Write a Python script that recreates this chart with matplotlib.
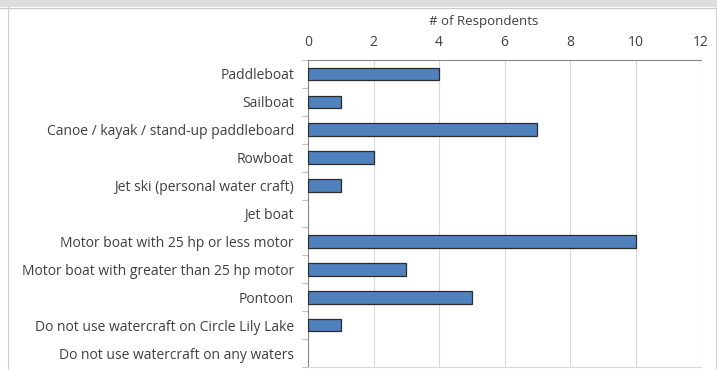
import matplotlib.pyplot as plt
from matplotlib.patches import Rectangle
from matplotlib.lines import Line2D

# Watercraft used, number of respondents per type
watercraft = [
    'Paddleboat',
    'Sailboat',
    'Canoe / kayak / stand-up paddleboard',
    'Rowboat',
    'Jet ski (personal water craft)',
    'Jet boat',
    'Motor boat with 25 hp or less motor',
    'Motor boat with greater than 25 hp motor',
    'Pontoon',
    'Do not use watercraft on Circle Lily Lake',
    'Do not use watercraft on any waters',
]
respondents = [4, 1, 7, 2, 1, 0, 10, 3, 5, 1, 0]
x_ticks = [0, 2, 4, 6, 8, 10, 12]

plt.rcParams['font.family'] = ['Open Sans', 'DejaVu Sans']

W, H = 717, 370
fig = plt.figure(figsize=(W / 100, H / 100), dpi=100)
ax = fig.add_axes([308 / W, 1 - 367 / H, (701 - 308) / W, (367 - 60) / H])

pos = list(range(len(watercraft)))
# no outline for empty categories so they stay blank
edges = ['#2b2b2b' if v > 0 else 'none' for v in respondents]
ax.barh(pos, respondents, height=0.45, color='#4f81bd', edgecolor=edges,
        linewidth=0.9, zorder=3)
ax.set_ylim(len(watercraft) - 0.5, -0.5)
ax.set_xlim(0, 12)

ax.xaxis.tick_top()
ax.xaxis.set_label_position('top')
ax.set_xticks(x_ticks)
ax.set_xticklabels([str(t) for t in x_ticks], fontsize=10, color='#404040')
ax.set_xlabel('# of Respondents', fontsize=9.5, color='#404040')
ax.xaxis.set_label_coords(0.448, 1.0 + 38 / 307, transform=ax.transAxes)
ax.xaxis.label.set_va('center')
ax.tick_params(axis='x', length=0, pad=7.5)

ax.set_yticks(pos)
ax.set_yticklabels(watercraft, fontsize=10, color='#404040')
ax.set_yticks([p + 0.5 for p in [-1] + pos], minor=True)
ax.tick_params(axis='y', which='major', length=0, pad=10)
ax.tick_params(axis='y', which='minor', length=4, color='#bfbfbf', width=0.8)

ax.grid(axis='x', color='#d9d9d9', linewidth=0.8, zorder=0)
ax.spines['right'].set_visible(False)
ax.spines['bottom'].set_color('#d9d9d9')
ax.spines['bottom'].set_linewidth(0.8)
ax.spines['top'].set_color('#888888')
ax.spines['top'].set_linewidth(0.8)
ax.spines['left'].set_color('#888888')
ax.spines['left'].set_linewidth(0.8)

# outer frame of the chart panel
fig.patches.append(Rectangle((0, 1 - 7 / H), 1, 7 / H, transform=fig.transFigure,
                             facecolor='#dedede', edgecolor='none'))
fig.lines.append(Line2D([0, 1], [1 - 7.5 / H] * 2, transform=fig.transFigure,
                        color='#c8c8c8', linewidth=0.8))
fig.lines.append(Line2D([7.5 / W] * 2, [0, 1 - 7 / H], transform=fig.transFigure,
                        color='#d0d0d0', linewidth=0.8))
fig.lines.append(Line2D([715.5 / W] * 2, [0, 1 - 7 / H], transform=fig.transFigure,
                        color='#d0d0d0', linewidth=0.8))

fig.savefig('out.png', dpi=100)
